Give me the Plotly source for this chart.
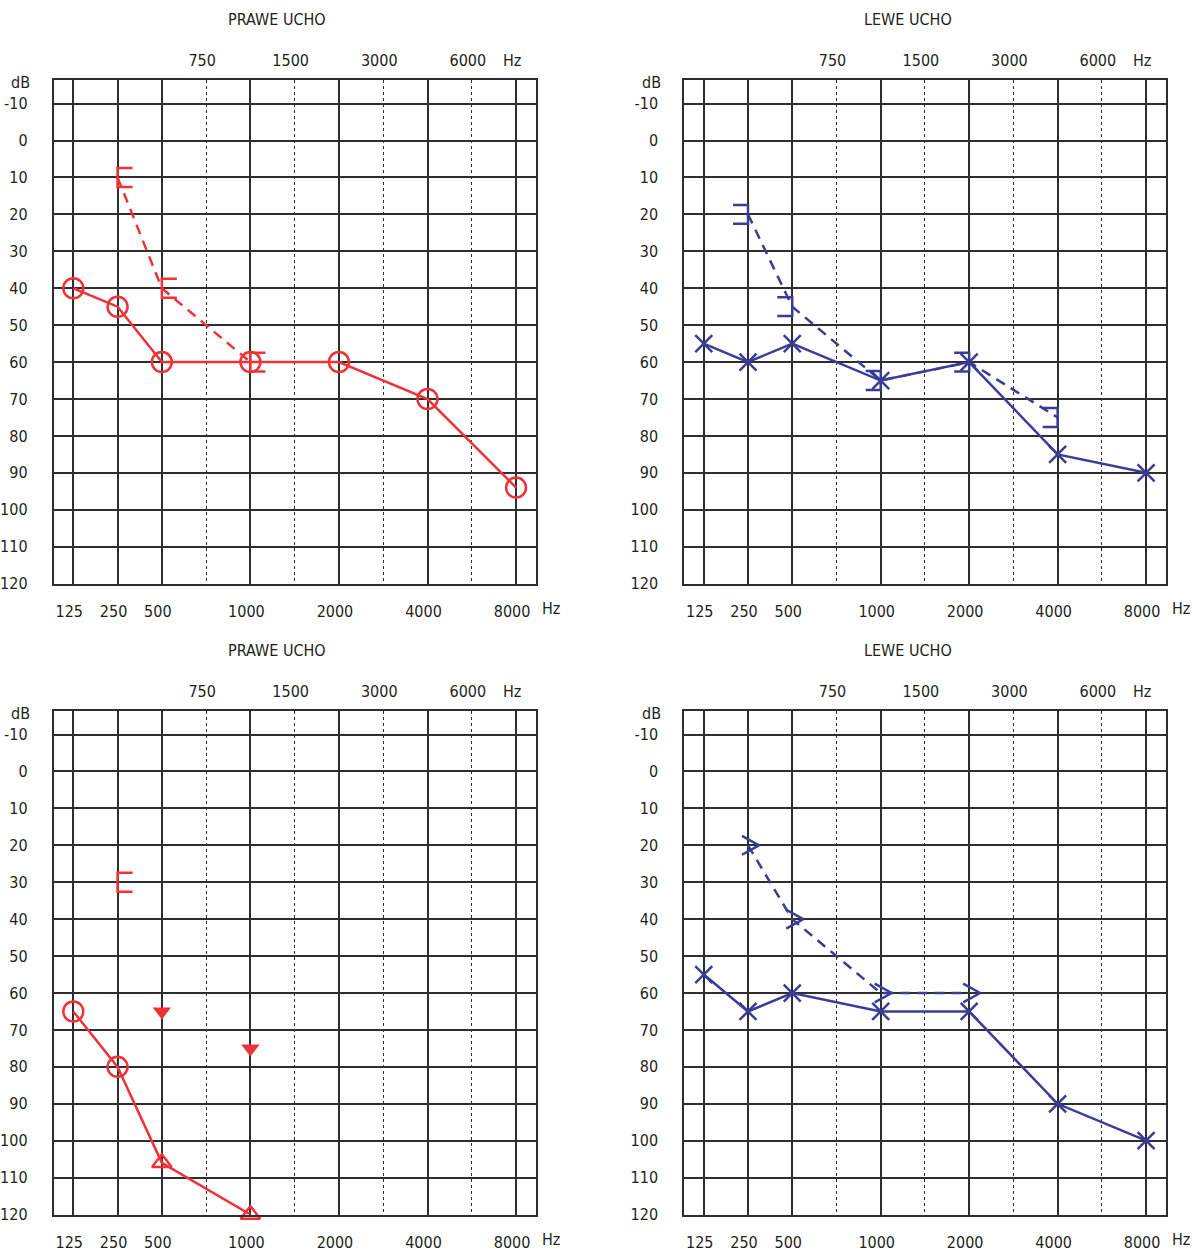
import plotly.graph_objects as go

W, H = 1197, 1256
FONT = "DejaVu Sans Condensed, Liberation Sans Narrow, sans-serif"
TXT = "#231F20"
GRID = "#2E2E2E"
RED = "#EE3338"
BLUE = "#3A3C98"

# ---------------- data ----------------
freq_cols = [125, 250, 500, 750, 1000, 1500, 2000, 3000, 4000, 6000, 8000]
bottom_freqs = [125, 250, 500, 1000, 2000, 4000, 8000]
top_freqs = [750, 1500, 3000, 6000]
db_ticks = list(range(-10, 121, 10))
titles = ["PRAWE UCHO", "LEWE UCHO", "PRAWE UCHO", "LEWE UCHO"]

# Panel 1: right ear (top-left)
p1_ac_freq = [125, 250, 500, 1000, 2000, 4000, 8000]
p1_ac_db = [40, 45, 60, 60, 60, 70, 94]
p1_bc_freq = [250, 500, 1000]
p1_bc_db = [10, 40, 60]

# Panel 2: left ear (top-right)
p2_ac_freq = [125, 250, 500, 1000, 2000, 4000, 8000]
p2_ac_db = [55, 60, 55, 65, 60, 85, 90]
p2_bc_freq = [250, 500, 1000, 2000, 4000]
p2_bc_db = [20, 45, 65, 60, 75]

# Panel 3: right ear (bottom-left)
p3_ac_freq = [125, 250, 500, 1000]
p3_ac_db = [65, 80, 106, 120]
p3_circ_freq = [125, 250]
p3_circ_db = [65, 80]
p3_nr_freq = [500, 1000]
p3_nr_db = [106, 120]
p3_tri_freq = [500, 1000]
p3_tri_db = [65, 75]
p3_bc_freq = [250]
p3_bc_db = [30]

# Panel 4: left ear (bottom-right)
p4_ac_freq = [125, 250, 500, 1000, 2000, 4000, 8000]
p4_ac_db = [55, 65, 60, 65, 65, 90, 100]
p4_bc_freq = [250, 500, 1000, 2000]
p4_bc_db = [20, 40, 60, 60]

# ---------------- layout geometry (pixels) ----------------
panels = [  # left, right, top, bottom
    (53.5, 536, 81, 588.3),
    (684, 1166, 81, 588.3),
    (53.5, 536, 717, 1224.3),
    (684, 1166, 717, 1224.3),
]
XR = [-0.447, 10.45]
YR = [120, -16.3]


def col(f):
    return freq_cols.index(f)


def cols(fs):
    return [col(f) for f in fs]


def px_scale(k):
    l, r, t, b = panels[k]
    return (XR[1] - XR[0]) / (r - l), (YR[0] - YR[1]) / (b - t)


def bracket(k, fs, dbs, side):
    dx, dy = px_scale(k)
    xs, ys = [], []
    arm = 15 * dx * (1 if side == "left" else -1)
    h = 9.5 * dy
    for f, d in zip(fs, dbs):
        x0 = col(f)
        xs += [x0 + arm, x0, x0, x0 + arm, None]
        ys += [d - h, d - h, d + h, d + h, None]
    return xs, ys


def chevron(k, fs, dbs):
    dx, dy = px_scale(k)
    xs, ys = [], []
    for f, d in zip(fs, dbs):
        x0 = col(f)
        xs += [x0 - 6 * dx, x0 + 11 * dx, x0 - 6 * dx, None]
        ys += [d - 9.5 * dy, d, d + 9.5 * dy, None]
    return xs, ys


fig = go.Figure()


def ax(k):
    return ("x" + ("" if k == 0 else str(k + 1)), "y" + ("" if k == 0 else str(k + 1)))


def add(k, **kw):
    xa, ya = ax(k)
    fig.add_trace(go.Scatter(xaxis=xa, yaxis=ya, showlegend=False, hoverinfo="skip",
                             cliponaxis=False, **kw))


def marks(k, fs, dbs, symbol, size, color, filled=False):
    if filled:
        mk = dict(symbol=symbol, size=size, color=color, line=dict(width=0))
    else:
        mk = dict(symbol=symbol, size=size, color=color, line=dict(width=2.5, color=color))
    add(k, x=cols(fs), y=dbs, mode="markers", marker=mk)


def line(k, fs, dbs, color, dashed=False):
    add(k, x=cols(fs), y=dbs, mode="lines",
        line=dict(color=color, width=2.5, dash="10px,7px" if dashed else "solid"))


# Panel 1
line(0, p1_bc_freq, p1_bc_db, RED, dashed=True)
bx, by = bracket(0, p1_bc_freq, p1_bc_db, "left")
add(0, x=bx, y=by, mode="lines", line=dict(color=RED, width=2.5))
line(0, p1_ac_freq, p1_ac_db, RED)
marks(0, p1_ac_freq, p1_ac_db, "circle-open", 20, RED)

# Panel 2
line(1, p2_bc_freq, p2_bc_db, BLUE, dashed=True)
bx, by = bracket(1, p2_bc_freq, p2_bc_db, "right")
add(1, x=bx, y=by, mode="lines", line=dict(color=BLUE, width=2.5))
line(1, p2_ac_freq, p2_ac_db, BLUE)
marks(1, p2_ac_freq, p2_ac_db, "x-thin", 17, BLUE)

# Panel 3
bx, by = bracket(2, p3_bc_freq, p3_bc_db, "left")
add(2, x=bx, y=by, mode="lines", line=dict(color=RED, width=2.5))
marks(2, p3_tri_freq, p3_tri_db, "triangle-down", 16, RED, filled=True)
line(2, p3_ac_freq, p3_ac_db, RED)
marks(2, p3_circ_freq, p3_circ_db, "circle-open", 20, RED)
marks(2, p3_nr_freq, p3_nr_db, "triangle-up-open", 17, RED)

# Panel 4
line(3, p4_bc_freq, p4_bc_db, BLUE, dashed=True)
cx, cy = chevron(3, p4_bc_freq, p4_bc_db)
add(3, x=cx, y=cy, mode="lines", line=dict(color=BLUE, width=2.5))
line(3, p4_ac_freq, p4_ac_db, BLUE)
marks(3, p4_ac_freq, p4_ac_db, "x-thin", 17, BLUE)

tickfont = dict(family=FONT, size=16, color=TXT)
lay = {}
annotations = []
for k, (l, r, t, b) in enumerate(panels):
    sfx = "" if k == 0 else str(k + 1)
    osfx = str(k + 5)
    lay["xaxis" + sfx] = dict(
        domain=[l / W, r / W], range=XR, anchor="y" + sfx,
        tickvals=cols(bottom_freqs), ticktext=[str(f) for f in bottom_freqs],
        showgrid=True, gridcolor=GRID, gridwidth=1.5,
        showline=True, linecolor=GRID, linewidth=1.5, mirror=True,
        zeroline=False, ticks="", ticklabelstandoff=12, ticklabelshift=-4,
        tickfont=tickfont, fixedrange=True)
    lay["xaxis" + osfx] = dict(
        overlaying="x" + sfx, side="top", anchor="y" + sfx, range=XR,
        tickvals=cols(top_freqs) + [10], ticktext=[str(f) for f in top_freqs] + ["Hz"],
        showgrid=True, griddash="dot", gridcolor=GRID, gridwidth=1.2,
        showline=False, zeroline=False, ticks="", ticklabelstandoff=10, ticklabelshift=-4,
        tickfont=tickfont, fixedrange=True)
    lay["yaxis" + sfx] = dict(
        domain=[1 - b / H, 1 - t / H], range=YR, anchor="x" + sfx,
        tickvals=db_ticks, ticktext=[str(v) for v in db_ticks],
        showgrid=True, gridcolor=GRID, gridwidth=1.5,
        showline=True, linecolor=GRID, linewidth=1.5, mirror=True,
        zeroline=False, ticks="", ticklabelstandoff=21, tickfont=tickfont, fixedrange=True)
    fig.add_trace(go.Scatter(x=[None], y=[None], xaxis="x" + osfx, yaxis="y" + sfx,
                             showlegend=False, hoverinfo="skip"))
    annotations.append(dict(text=titles[k], x=(l + 223.5) / W, y=1 - (t - 61) / H,
                            xref="paper", yref="paper", showarrow=False,
                            xanchor="center", yanchor="middle", font=tickfont))
    annotations.append(dict(text="dB", x=(l - 21.5) / W, y=1 - (t + 2) / H,
                            xref="paper", yref="paper", showarrow=False,
                            xanchor="right", yanchor="middle", font=tickfont))
    annotations.append(dict(text="Hz", x=(r + 15) / W, y=1 - (b + 25) / H,
                            xref="paper", yref="paper", showarrow=False,
                            xanchor="center", yanchor="middle", font=tickfont))

fig.update_layout(**lay)
fig.update_layout(width=W, height=H, margin=dict(l=0, r=0, t=0, b=0),
                  paper_bgcolor="white", plot_bgcolor="white",
                  annotations=annotations, showlegend=False)

fig.write_html("out.html", config={"displayModeBar": False},
               post_script="document.body.style.margin='0';")
